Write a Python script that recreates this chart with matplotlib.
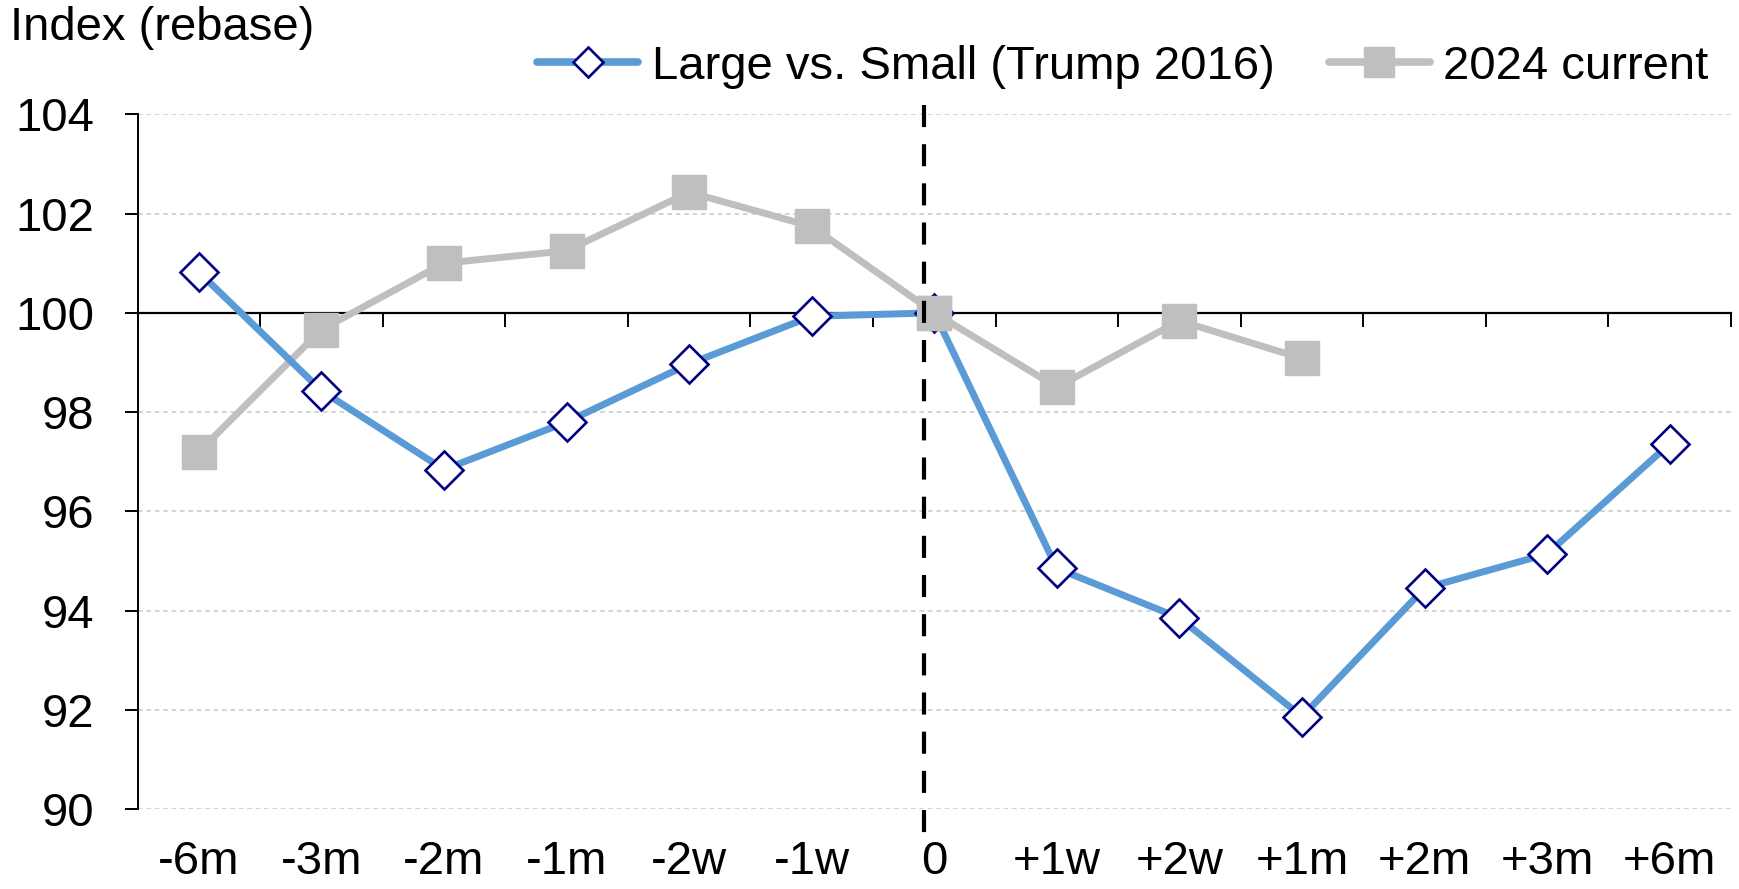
import matplotlib
matplotlib.use("Agg")
import matplotlib.pyplot as plt
from matplotlib.lines import Line2D
import numpy as np

# ---- data ----
categories = ["-6m", "-3m", "-2m", "-1m", "-2w", "-1w", "0",
              "+1w", "+2w", "+1m", "+2m", "+3m", "+6m"]
large_vs_small_2016 = [100.82, 98.43, 96.84, 97.80, 98.97, 99.93, 100.00,
                       94.85, 93.85, 91.86, 94.45, 95.14, 97.36]
current_2024 = [97.20, 99.66, 101.00, 101.25, 102.43, 101.74, 100.00,
                98.50, 99.84, 99.08]
yticks = [90, 92, 94, 96, 98, 100, 102, 104]
series_names = ["Large vs. Small (Trump 2016)", "2024 current"]

# ---- style ----
plt.rcParams["font.family"] = ["Liberation Sans", "DejaVu Sans"]
FS = 34

BLUE = "#5B9BD5"
NAVY = "#000080"
GREY = "#BFBFBF"

fig = plt.figure(figsize=(17.4, 8.89), dpi=100)
ax = fig.add_axes([0.0791, 0.0900, 0.9157, 0.7814])

x = np.arange(len(categories))
x_cur = np.arange(len(current_2024))

ax.plot(x_cur, current_2024, color=GREY, lw=5, marker="s", ms=24,
        mfc=GREY, mec=GREY, zorder=3, solid_joinstyle="round")
ax.plot(x, large_vs_small_2016, color=BLUE, lw=5, marker="D", ms=19.5,
        mfc="white", mec=NAVY, mew=1.9, zorder=4, solid_joinstyle="round")
# grey square at the event point sits on top of the diamond
ax.plot(x_cur[6:7], current_2024[6:7], ls="none", marker="s", ms=24,
        mfc=GREY, mec=GREY, zorder=5)

# event marker (election day)
event_x = 5.92
ax.plot([event_x, event_x], [104.19, 89.38], color="black", lw=3,
        dashes=(5.3, 4.1), clip_on=False, zorder=6, dash_capstyle="butt")

ax.set_xlim(-0.5, len(categories) - 0.5)
ax.set_ylim(90, 104)

# grid
for y in yticks:
    if y != 100:
        ax.axhline(y, color="#C8C8C8", lw=1.1, dashes=(3, 2.5), zorder=1)

# spines: y axis on the left, x axis crossing at 100
for s in ["top", "right"]:
    ax.spines[s].set_visible(False)
ax.spines["left"].set_linewidth(1.4)
ax.spines["bottom"].set_position(("data", 100))
ax.spines["bottom"].set_linewidth(1.6)
ax.spines["bottom"].set_zorder(2)

ax.set_yticks(yticks)
ax.set_yticklabels([str(v) for v in yticks], fontsize=FS)
ax.tick_params(axis="y", direction="out", length=9.5, width=1.4, pad=22)

ax.set_xticks(np.arange(-0.5, len(categories), 1.0))
ax.set_xticklabels([])
ax.tick_params(axis="x", direction="out", length=10, width=1.4)

sec = ax.secondary_xaxis(0)
sec.set_xticks(x)
sec.set_xticklabels(categories, fontsize=FS)
sec.tick_params(length=0, pad=22)
sec.spines["bottom"].set_visible(False)

# title
fig.text(0.006, 0.955, "Index (rebase)", fontsize=FS, ha="left", va="baseline")

# legend
handles = [
    Line2D([], [], color=BLUE, lw=5.5, marker="D", ms=15, mfc="white",
           mec=NAVY, mew=1.9, solid_capstyle="round"),
    Line2D([], [], color=GREY, lw=5.5, marker="s", ms=21, mfc=GREY,
           mec=GREY, solid_capstyle="round"),
]
fig.legend(handles, series_names, loc="center right",
           bbox_to_anchor=(0.982, 0.925), ncol=2, frameon=False,
           fontsize=FS, handlelength=2.15, handletextpad=0.28,
           columnspacing=1.15, borderaxespad=0, borderpad=0)

fig.savefig("out.png", dpi=100)
